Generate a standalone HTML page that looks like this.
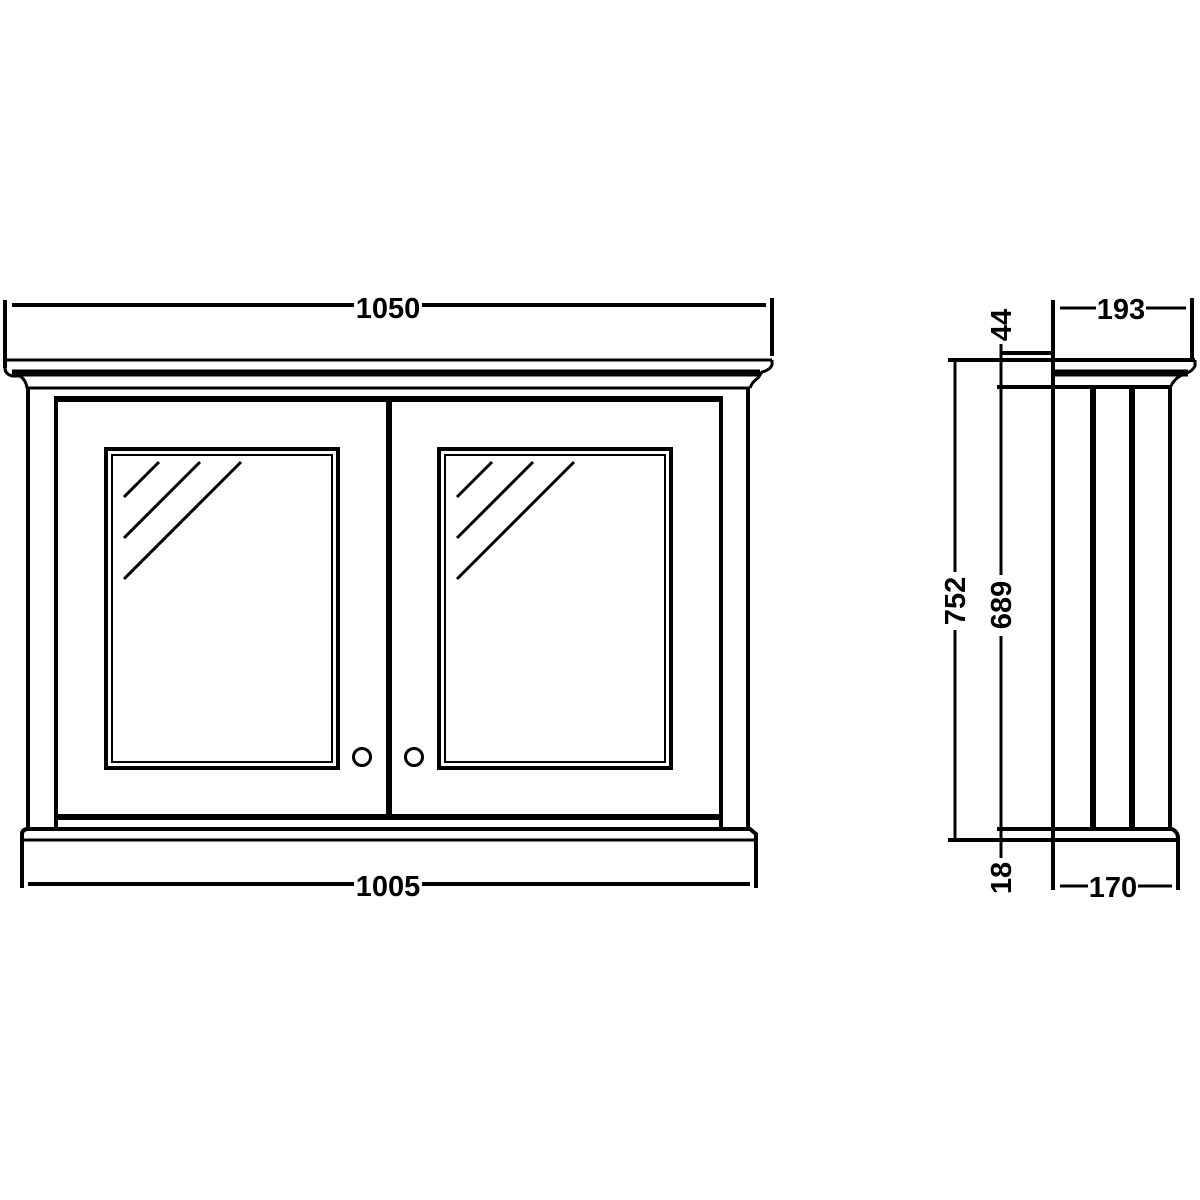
<!DOCTYPE html>
<html><head><meta charset="utf-8"><style>html,body{margin:0;padding:0;background:#fff}svg{display:block}</style></head>
<body>
<svg width="1200" height="1200" viewBox="0 0 1200 1200" xmlns="http://www.w3.org/2000/svg" fill="none" stroke="#000" stroke-linecap="butt">
<!-- FRONT VIEW -->
<line x1="5" y1="300" x2="5" y2="368" stroke-width="4"/>
<line x1="772" y1="298" x2="772" y2="356" stroke-width="4"/>
<line x1="12" y1="305" x2="354" y2="305" stroke-width="4"/>
<line x1="422" y1="305" x2="766" y2="305" stroke-width="4"/>
<line x1="7" y1="360" x2="772" y2="360" stroke-width="3"/>
<path d="M5,368 Q5,374 12,376 L20,376 Q26,380 27,388" stroke-width="3"/>
<line x1="12" y1="373" x2="760" y2="373" stroke-width="7"/>
<path d="M772,360 L772,365 Q770,370 762,372 L758,378 Q752,382 750,388" stroke-width="3"/>
<line x1="27" y1="388" x2="750" y2="388" stroke-width="3"/>
<line x1="55" y1="399" x2="722" y2="399" stroke-width="6"/>
<line x1="28" y1="388" x2="28" y2="830" stroke-width="4"/>
<line x1="56" y1="396" x2="56" y2="830" stroke-width="4"/>
<line x1="721" y1="396" x2="721" y2="830" stroke-width="4"/>
<line x1="748" y1="388" x2="748" y2="830" stroke-width="4"/>
<line x1="389" y1="399" x2="389" y2="818" stroke-width="6"/>
<line x1="56" y1="817" x2="721" y2="817" stroke-width="6"/>
<path d="M22,888 L22,834 Q22,830 27,829 L750,829 L756,834 L756,888" stroke-width="4"/>
<line x1="22" y1="840" x2="756" y2="840" stroke-width="3"/>
<line x1="28" y1="884" x2="354" y2="884" stroke-width="4"/>
<line x1="422" y1="884" x2="750" y2="884" stroke-width="4"/>
<rect x="106" y="449" width="232" height="319" stroke-width="4"/>
<rect x="112" y="455" width="220" height="307" stroke-width="2"/>
<rect x="439" y="449" width="232" height="319" stroke-width="4"/>
<rect x="445" y="455" width="220" height="307" stroke-width="2"/>
<g stroke-width="3">
<line x1="124" y1="497" x2="159" y2="462"/>
<line x1="124" y1="538" x2="200" y2="462"/>
<line x1="124" y1="579" x2="241" y2="462"/>
<line x1="457" y1="497" x2="492" y2="462"/>
<line x1="457" y1="538" x2="533" y2="462"/>
<line x1="457" y1="579" x2="574" y2="462"/>
</g>
<circle cx="362" cy="757" r="8.5" stroke-width="3"/>
<circle cx="414" cy="757" r="8.5" stroke-width="3"/>
<!-- SIDE VIEW -->
<line x1="1053" y1="300" x2="1053" y2="890" stroke-width="4"/>
<line x1="1192" y1="298" x2="1192" y2="360" stroke-width="4"/>
<line x1="1060" y1="308" x2="1096" y2="308" stroke-width="3"/>
<line x1="1146" y1="308" x2="1186" y2="308" stroke-width="3"/>
<line x1="948" y1="360" x2="1195" y2="360" stroke-width="4"/>
<line x1="1000" y1="353" x2="1053" y2="353" stroke-width="4"/>
<line x1="1055" y1="373" x2="1188" y2="373" stroke-width="7"/>
<path d="M1195,360 L1195,366 Q1192,372 1184,374 Q1174,378 1170,388" stroke-width="3"/>
<line x1="997" y1="387" x2="1170" y2="387" stroke-width="4"/>
<line x1="1093" y1="387" x2="1093" y2="829" stroke-width="6"/>
<line x1="1132" y1="387" x2="1132" y2="829" stroke-width="6"/>
<line x1="1170" y1="387" x2="1170" y2="829" stroke-width="4"/>
<path d="M997,829 L1172,829 Q1178,832 1178,838 L1178,842" stroke-width="4"/>
<line x1="948" y1="840" x2="1178" y2="840" stroke-width="4"/>
<line x1="1178" y1="840" x2="1178" y2="890" stroke-width="4"/>
<line x1="1060" y1="886" x2="1088" y2="886" stroke-width="3"/>
<line x1="1138" y1="886" x2="1172" y2="886" stroke-width="3"/>
<line x1="955" y1="362" x2="955" y2="572" stroke-width="3"/>
<line x1="955" y1="630" x2="955" y2="838" stroke-width="3"/>
<line x1="1001" y1="344" x2="1001" y2="575" stroke-width="3"/>
<line x1="1001" y1="636" x2="1001" y2="858" stroke-width="3"/>
<g font-family="Liberation Sans, sans-serif" font-weight="bold" font-size="29" fill="#000" stroke="none" text-anchor="middle">
<text x="388" y="318">1050</text>
<text x="388" y="896">1005</text>
<text x="1121" y="319">193</text>
<text x="1113" y="897">170</text>
<text transform="translate(965,601) rotate(-90)">752</text>
<text transform="translate(1011,605) rotate(-90)">689</text>
<text transform="translate(1011,325) rotate(-90)">44</text>
<text transform="translate(1011,878) rotate(-90)">18</text>
</g>
</svg>
</body></html>
